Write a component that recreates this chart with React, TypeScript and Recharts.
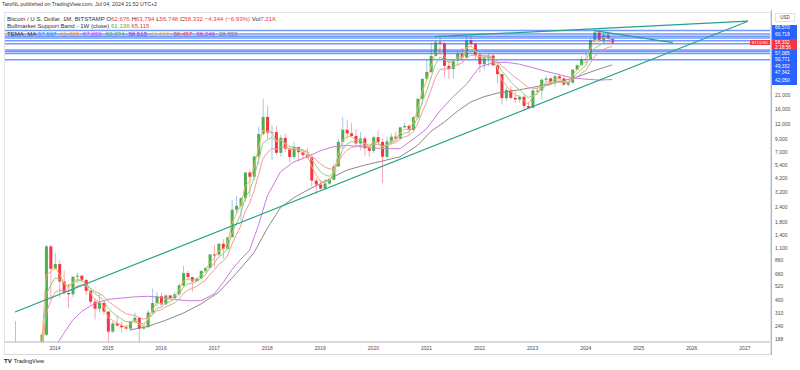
import React from 'react';
import { ComposedChart, Bar, Line, XAxis, YAxis, ReferenceLine } from 'recharts';

// Monthly BTC/USD candles, month index 0 = Jan 2013 ... 138 = Jul 2024
const opens = [
  13.5, 20.4, 33.4, 92, 139, 129, 97, 106, 126, 133, 204, 1130,
  732, 803, 573, 458, 447, 627, 640, 589, 478, 387, 338, 378,
  320, 217, 254, 244, 236, 230, 263, 284, 230, 236, 314, 377,
  430, 368, 437, 416, 448, 531, 673, 624, 575, 608, 700, 745,
  966, 965, 1190, 1080, 1350, 2300, 2480, 2870, 4730, 4350, 6450, 9950,
  13860, 10220, 10330, 6920, 9240, 7500, 6390, 7730, 7010, 6630, 6320, 4040,
  3740, 3460, 3820, 4110, 5320, 8570, 10820, 10080, 9600, 8290, 9150, 7550,
  7190, 9350, 8540, 6410, 8620, 9450, 9140, 11350, 11650, 10780, 13800, 19700,
  28990, 33110, 45160, 58800, 57700, 37300, 35040, 41460, 47100, 43820, 61300, 57000,
  46200, 38480, 43190, 45540, 37640, 31800, 19940, 23300, 20050, 19430, 20500, 17160,
  16540, 23130, 23140, 28480, 29250, 27220, 30470, 29230, 25940, 26960, 34660, 37720,
  42280, 42580, 61170, 71300, 60650, 67500, 62676,
];
const highs = [
  20.4, 33.4, 93, 266, 140, 129, 110, 126, 146, 214, 1163, 1163,
  1000, 862, 710, 550, 635, 680, 650, 600, 490, 415, 460, 385,
  320, 265, 300, 261, 248, 268, 315, 285, 245, 332, 500, 467,
  462, 445, 440, 468, 555, 775, 705, 625, 620, 720, 755, 980,
  1150, 1200, 1300, 1350, 2760, 3000, 2950, 4750, 5000, 6460, 11400, 19666,
  17200, 11790, 11700, 9750, 10020, 7780, 8500, 7770, 7400, 7670, 6600, 4250,
  4100, 4200, 4120, 5630, 9100, 13880, 13200, 12330, 10950, 10350, 9500, 7750,
  9580, 10500, 9190, 9470, 10070, 10400, 11450, 12480, 12090, 14100, 19860, 29300,
  41950, 58350, 61800, 64900, 59600, 41300, 42300, 50500, 52900, 67000, 69000, 59100,
  47990, 45800, 48200, 47440, 40000, 31900, 24650, 25200, 22800, 21000, 21450, 18400,
  23950, 25250, 29200, 31000, 29820, 31400, 31800, 30200, 27500, 35200, 38420, 44700,
  49000, 64000, 73800, 72800, 71950, 71950, 63794,
];
const lows = [
  13.3, 19.1, 33, 50, 79, 85, 65, 101, 109, 106, 199, 400,
  720, 420, 443, 340, 424, 553, 568, 440, 365, 275, 314, 300,
  152, 212, 240, 214, 227, 218, 253, 162, 225, 236, 310, 350,
  350, 365, 400, 413, 436, 515, 600, 468, 570, 604, 680, 740,
  750, 940, 890, 1060, 1350, 2100, 1830, 2680, 2970, 4100, 5500, 9700,
  9100, 5970, 6600, 6430, 7050, 5750, 6110, 5880, 6100, 6200, 3550, 3120,
  3380, 3400, 3730, 4080, 5300, 7460, 9070, 9330, 7720, 7300, 6530, 6430,
  6860, 8450, 3850, 6150, 8120, 8900, 8980, 11130, 9880, 10400, 13220, 17570,
  28130, 32300, 45000, 47000, 30000, 28800, 29300, 37300, 39600, 43300, 53250, 42000,
  32930, 34300, 37200, 37600, 26700, 17600, 18800, 19600, 18200, 18200, 15480, 16300,
  16500, 21400, 19570, 26950, 25800, 24800, 28860, 25300, 24900, 26550, 34100, 37600,
  38500, 41880, 59000, 59100, 56500, 58400, 56748,
];
const closes = [
  20.4, 33.4, 92, 139, 129, 97, 106, 126, 133, 204, 1130, 732,
  803, 573, 458, 447, 627, 640, 589, 478, 387, 338, 378, 320,
  217, 254, 244, 236, 230, 263, 284, 230, 236, 314, 377, 430,
  368, 437, 416, 448, 531, 673, 624, 575, 608, 700, 745, 966,
  965, 1190, 1080, 1350, 2300, 2480, 2870, 4730, 4350, 6450, 9950, 13860,
  10220, 10330, 6920, 9240, 7500, 6390, 7730, 7010, 6630, 6320, 4040, 3740,
  3460, 3820, 4110, 5320, 8570, 10820, 10080, 9600, 8290, 9150, 7550, 7190,
  9350, 8540, 6410, 8620, 9450, 9140, 11350, 11650, 10780, 13800, 19700, 28990,
  33110, 45160, 58800, 57700, 37300, 35040, 41460, 47100, 43820, 61300, 57000, 46200,
  38480, 43190, 45540, 37640, 31800, 19940, 23300, 20050, 19430, 20500, 17160, 16540,
  23130, 23140, 28480, 29250, 27220, 30470, 29230, 25940, 26960, 34660, 37720, 42280,
  42580, 61170, 71300, 60650, 67500, 62676, 58332,
];

// Moving averages, starting at month index 9 (Oct 2013)
const MA_START = 9;
const fastMA = [
  167, 649, 690, 746, 659, 559, 503, 565, 602, 595,
  537, 461, 400, 389, 354, 285, 270, 257, 246, 238,
  250, 267, 248, 242, 278, 327, 379, 373, 405, 410,
  429, 480, 576, 600, 587, 598, 649, 697, 831, 898,
  1044, 1062, 1206, 1753, 2117, 2493, 3612, 3981, 5215, 7583,
  10721, 10471, 10400, 8660, 8950, 8225, 7307, 7519, 7264, 6947,
  6633, 5337, 4538, 3999, 3910, 4010, 4665, 6617, 8719, 9399,
  9500, 8895, 9022, 8286, 7738, 8544, 8542, 7476, 8048, 8749,
  8945, 10147, 10899, 10839, 12320, 16010, 22500, 27805, 36482, 47641,
  52670, 44985, 40012, 40736, 43918, 43869, 52584, 54792, 50496, 44488,
  43839, 44690, 41165, 36482, 28211, 25755, 22903, 21166, 20833, 18996,
  17768, 20449, 21794, 25137, 27193, 27207, 28838, 29034, 27487, 27223,
  30941, 34330, 38305, 40442, 50806, 61053, 60851, 64175, 63425, 60878,
];
const midMA = [
  149, 443, 530, 612, 600, 557, 524, 555, 581, 584,
  552, 502, 452, 429, 396, 342, 315, 294, 277, 263,
  263, 269, 257, 251, 270, 302, 340, 348, 375, 388,
  406, 443, 512, 545, 555, 571, 610, 651, 746, 812,
  925, 972, 1085, 1450, 1759, 2092, 2883, 3323, 4261, 5968,
  8336, 8901, 9330, 8607, 8797, 8408, 7803, 7781, 7550, 7274,
  6988, 6104, 5395, 4815, 4517, 4395, 4673, 5842, 7335, 8159,
  8591, 8501, 8696, 8352, 8003, 8407, 8447, 7836, 8071, 8485,
  8682, 9482, 10132, 10326, 11368, 13868, 18405, 22817, 29520, 38304,
  44123, 42076, 39965, 40414, 42420, 42840, 48378, 50965, 49536, 46219,
  45310, 45379, 43057, 39680, 33758, 30621, 27450, 25044, 23681, 21725,
  20170, 21058, 21683, 23722, 25380, 25932, 27293, 27874, 27294, 27194,
  29434, 31920, 35028, 37294, 44457, 52510, 54952, 58716, 59904, 59433,
];
const slowMA = [
  134, 312, 388, 463, 483, 478, 472, 500, 525, 537,
  526, 501, 472, 455, 431, 392, 367, 345, 325, 308,
  300, 297, 285, 276, 283, 300, 323, 331, 350, 362,
  378, 406, 454, 484, 501, 520, 552, 587, 655, 711,
  797, 848, 938, 1183, 1416, 1678, 2227, 2609, 3300, 4497,
  6183, 6910, 7525, 7417, 7745, 7701, 7465, 7512, 7422, 7279,
  7107, 6555, 6048, 5582, 5265, 5057, 5105, 5729, 6646, 7264,
  7684, 7793, 8037, 7949, 7812, 8089, 8170, 7853, 7991, 8254,
  8413, 8942, 9429, 9672, 10415, 12086, 15129, 18366, 23189, 29599,
  34657, 35133, 35116, 36258, 38210, 39220, 43194, 45679, 45773, 44460,
  44231, 44466, 43237, 41178, 37355, 34825, 32166, 29873, 28186, 26202,
  24463, 24223, 24028, 24829, 25625, 25913, 26734, 27183, 26959, 26959,
  28345, 30033, 32237, 34098, 38971, 44790, 47645, 51219, 53282, 54191,
];
// [month index, value]
const purpleMA: [number, number][] = [
  [12, 160], [14, 210], [16, 270], [18, 320], [21, 375], [24, 405], [27, 415], [30, 425],
  [33, 430], [36, 420], [39, 405], [42, 395], [45, 395], [48, 450], [50, 560], [52, 720],
  [54, 880], [56, 1050], [58, 1700], [60, 3000], [63, 4800], [66, 5800], [69, 6400],
  [72, 7200], [75, 7800], [78, 8000], [81, 7800], [84, 7600], [87, 7500], [90, 7500],
  [93, 9000], [96, 11000], [99, 15500], [102, 20500], [105, 26000], [108, 36500],
  [111, 39500], [114, 40000], [117, 38500], [120, 36000], [123, 33500], [126, 31500],
  [129, 29500], [132, 28800], [135, 28300], [138, 28600],
];
const grayMA: [number, number][] = [
  [29, 224], [33, 240], [37, 270], [41, 310], [45, 370], [49, 465], [53, 670], [57, 1000],
  [60, 1600], [63, 2400], [66, 2900], [69, 3350], [72, 3800], [75, 4350], [78, 4950],
  [82, 5450], [86, 5900], [90, 6400], [94, 8000], [97, 10500], [100, 12500], [103, 15500],
  [106, 18500], [109, 20500], [112, 22000], [115, 22800], [118, 23800], [121, 25000],
  [124, 26500], [127, 28000], [130, 30000], [133, 33000], [136, 36000], [138, 38000],
];

const yearTicks = [12, 24, 36, 48, 60, 72, 84, 96, 108, 120, 132, 144, 156, 168];
const yearLabels = ['2014', '2015', '2016', '2017', '2018', '2019', '2020', '2021', '2022', '2023', '2024', '2025', '2026', '2027'];
const priceTicks = [188, 240, 310, 400, 520, 660, 860, 1100, 1400, 1800, 2400, 3200, 4200, 5400, 7000, 9000, 12000, 16000, 21000];
const levelLines = [73800, 69000, 66150, 63794, 60719, 57085, 50771, 49332, 47342, 42050];
// trend lines as [month, price, month, price]
const trendLines: [number, number, number, number][] = [
  [2.96, 317, 168.7, 88500],
  [97.9, 65600, 168.7, 88500],
  [134, 73700, 151.7, 58400],
];
const axisLabels = [
  { text: '66,570' },
  { text: '60,719' },
  { text: '58,332', sub: '2:18:56' },
  { text: '57,085' },
  { text: '50,771' },
  { text: '49,332' },
  { text: '47,342' },
  { text: '42,050' },
];
const temaValues = [
  { v: '57,567', c: '#2196f3' }, { v: '61,009', c: '#ff9800' }, { v: '57,859', c: '#e040fb' },
  { v: '59,374', c: '#4caf50' }, { v: '58,515', c: '#9c27b0' }, { v: '60,213', c: '#fbc02d' },
  { v: '58,457', c: '#f44336' }, { v: '38,246', c: '#ab47bc' }, { v: '28,555', c: '#787b86' },
];

const UP = '#4caf50';
const DOWN = '#f23645';
const WICK_UP = '#9fc8f0';
const WICK_DOWN = '#f7a6b4';

const data: any[] = opens.map((o, i) => {
  const c = closes[i];
  const row: any = {
    m: i, o, h: highs[i], l: lows[i], c,
    wick: [lows[i], highs[i]],
    body: [Math.min(o, c), Math.max(o, c)],
  };
  const k = i - MA_START;
  if (k >= 0 && k < fastMA.length) {
    row.fast = fastMA[k];
    row.mid = midMA[k];
    row.slow = slowMA[k];
  }
  return row;
});
purpleMA.forEach(([m, v]) => { data[m].purple = v; });
grayMA.forEach(([m, v]) => { data[m].gray = v; });

const WickShape = (p: any) => {
  const up = p.payload.c >= p.payload.o;
  return <rect x={p.x} y={p.y} width={p.width} height={Math.max(1, p.height)} fill={up ? WICK_UP : WICK_DOWN} />;
};
const BodyShape = (p: any) => {
  const up = p.payload.c >= p.payload.o;
  return <rect x={p.x} y={p.y} width={p.width} height={Math.max(1, p.height)} fill={up ? UP : DOWN} />;
};

const FONT = '"Liberation Sans", Arial, sans-serif';

export default function App() {
  return (
    <div style={{ position: 'absolute', left: 0, top: 0, width: 800, height: 370, background: '#fff', fontFamily: FONT, overflow: 'hidden' }}>
      <ComposedChart width={800} height={370} data={data} margin={{ top: 12, right: 0, bottom: 0, left: 4 }}>
        <XAxis dataKey="m" type="number" domain={[0.47, 173.9]} allowDataOverflow ticks={yearTicks} interval={0}
          tickFormatter={(m: number) => yearLabels[yearTicks.indexOf(m)] ?? ''} height={28} tickSize={0} tickMargin={4}
          tickLine={false} axisLine={{ stroke: '#b2b5be' }} tick={{ fontSize: 5, fill: '#4a4a4a', fontFamily: FONT }} />
        <XAxis xAxisId="body" dataKey="m" type="number" domain={[0.47, 173.9]} allowDataOverflow hide />
        <YAxis orientation="right" scale="log" domain={[177.4, 105800]} allowDataOverflow ticks={priceTicks} interval={0}
          width={29} tickSize={0} tickMargin={4} tickLine={false} axisLine={{ stroke: '#b2b5be' }}
          tick={{ fontSize: 5, fill: '#4a4a4a', fontFamily: FONT, textAnchor: 'start' }}
          tickFormatter={(v: number) => v.toLocaleString('en-US')} />
        {levelLines.map((p) => (
          <ReferenceLine key={'lv' + p} y={p} stroke="#2962ff" strokeWidth={1.5} strokeOpacity={0.65} />
        ))}
        <Line dataKey="gray" stroke="#8a8a8a" strokeWidth={1} dot={false} connectNulls isAnimationActive={false} />
        <Line dataKey="purple" stroke="#c77ddf" strokeWidth={1} dot={false} connectNulls isAnimationActive={false} />
        <Line dataKey="slow" stroke="#f49a9a" strokeWidth={1} dot={false} connectNulls isAnimationActive={false} />
        <Line dataKey="mid" stroke="#8fcf8c" strokeWidth={1} dot={false} connectNulls isAnimationActive={false} />
        <Line dataKey="fast" stroke="#f8b562" strokeWidth={1} dot={false} connectNulls isAnimationActive={false} />
        <Bar dataKey="wick" barSize={1} shape={WickShape} isAnimationActive={false} />
        <Bar dataKey="body" xAxisId="body" barSize={3} shape={BodyShape} isAnimationActive={false} />
        {trendLines.map((t, i) => (
          <ReferenceLine key={'tl' + i} segment={[{ x: t[0], y: t[1] }, { x: t[2], y: t[3] }]} stroke="#22a38a" strokeWidth={1.2} ifOverflow="visible" />
        ))}
      </ComposedChart>

      {/* header */}
      <div style={{ position: 'absolute', left: 2, top: 1, fontSize: 5.3, color: '#333', whiteSpace: 'nowrap' }}>
        TaroNL published on TradingView.com, Jul 04, 2024 21:52 UTC+2
      </div>
      {/* pane frame */}
      <div style={{ position: 'absolute', left: 4, top: 12, width: 767, height: 343, border: '1px solid #e0e3eb', boxSizing: 'border-box', pointerEvents: 'none' }} />
      <div style={{ position: 'absolute', left: 4, top: 354, width: 767, height: 1, background: '#d6d8de' }} />
      <div style={{ position: 'absolute', left: 771, top: 10, width: 1, height: 345, background: '#b2b5be' }} />
      {/* legend */}
      <div style={{ position: 'absolute', left: 7, top: 14.5, fontSize: 6.1, color: '#333', whiteSpace: 'nowrap', lineHeight: '7px' }}>
        <div>
          Bitcoin / U.S. Dollar, 1M, BITSTAMP{' '}
          O<span style={{ color: DOWN }}>62,676</span>{' '}
          H<span style={{ color: DOWN }}>63,794</span>{' '}
          L<span style={{ color: DOWN }}>56,748</span>{' '}
          C<span style={{ color: DOWN }}>58,332</span>{' '}
          <span style={{ color: DOWN }}>−4,344 (−6.93%)</span>{' '}
          Vol<span style={{ color: DOWN }}>7.21K</span>
        </div>
        <div>
          Bullmarket Support Band - 1W (close){' '}
          <span style={{ color: '#4caf50' }}>61,136</span>{' '}
          <span style={{ color: DOWN }}>65,115</span>
        </div>
        <div style={{ marginTop: 1 }}>
          TEMA, MA{' '}
          {temaValues.map((t, i) => (
            <span key={i} style={{ color: t.c, marginRight: 4 }}>{t.v}</span>
          ))}
        </div>
      </div>
      {/* right axis header and labels */}
      <div style={{ position: 'absolute', left: 775, top: 13, width: 20, height: 9, border: '1px solid #e0e3eb', boxSizing: 'border-box', fontSize: 4.5, color: '#333', textAlign: 'center', lineHeight: '8px' }}>USD</div>
      <div style={{ position: 'absolute', left: 772, top: 25, width: 25, height: 60, background: '#2962ff' }} />
      <div style={{ position: 'absolute', left: 772, top: 39, width: 25, height: 10.5, background: '#f23645' }} />
      <div style={{ position: 'absolute', left: 750, top: 39.5, width: 20, height: 5.5, background: '#f23645', color: '#fff', fontSize: 4, lineHeight: '5.5px', textAlign: 'center' }}>BTCUSD</div>
      {axisLabels.map((l, i) => {
        const top = [25, 32, 39.5, 50.5, 57, 63.7, 70.4, 78.4][i];
        return (
          <div key={i} style={{ position: 'absolute', left: 775, top, fontSize: 4.8, color: '#fff', lineHeight: '5px', whiteSpace: 'nowrap' }}>
            {l.text}
            {l.sub ? <div>{l.sub}</div> : null}
          </div>
        );
      })}
      {/* logo */}
      <div style={{ position: 'absolute', left: 4, top: 358, fontSize: 5.5, color: '#131722', whiteSpace: 'nowrap' }}>
        <b style={{ fontSize: 6, marginRight: 2 }}>TV</b>TradingView
      </div>
    </div>
  );
}
